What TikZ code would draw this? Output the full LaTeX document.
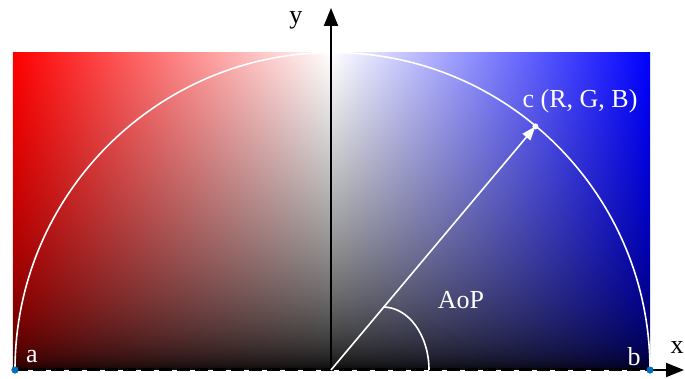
\documentclass[tikz,border=0pt]{standalone}
\usepackage{fontspec}
\setmainfont{Liberation Serif}
\usetikzlibrary{arrows.meta, positioning, calc}

\definecolor{endblue}{RGB}{0,112,192}

\pgfdeclarefunctionalshading{aopfield}{\pgfpoint{-50bp}{-50bp}}{\pgfpoint{50bp}{50bp}}{}{
  25 add 50 div dup 0 lt {pop 0} if exch 25 div
  dup abs 0.2 mul 0.6 exch sub 3 -1 roll exch exp exch
  dup 0 lt {1 add 1 index mul dup} {neg 1 add 1 index mul exch 1 index exch} ifelse
}

\begin{document}
\begin{tikzpicture}[
      x=1pt, y=1pt,
      every node/.style={inner sep=0pt, font=\fontsize{26}{26}\selectfont},
      axis/.style={black, line width=2pt, -{Triangle[length=18pt, width=14pt]}},
      ray/.style={white, line width=1.6pt},
      dot/.style={circle, fill=#1, minimum size=7pt, inner sep=0pt}
    ]
      \useasboundingbox (-331,-9) rectangle (354,370);
      \shade[shading=aopfield] (-318,0) rectangle (319,317);

      \coordinate (o) at (0,0);
      \coordinate (ytip) at (0,362);
      \coordinate (xtip) at (353,0);
      \coordinate (c) at (50:318);
      \coordinate (arcstart) at (52,63);

      \node[dot=endblue] (pa) at (-316,0) {};
      \node[dot=endblue] (pb) at (319,0) {};

      \draw[ray] (pa.center) arc[start angle=180, end angle=0, radius=317.5];
      \draw[black, line width=3pt, dash pattern=on 13pt off 5pt] (pa.center) -- (pb.center);

      \draw[axis] (o) -- (ytip);
      \draw[axis] (pb.center) -- (xtip);
      \node[dot=endblue] at (pa) {};
      \node[dot=endblue] at (pb) {};

      \draw[ray, -{Triangle[length=14pt, width=10pt]}] (o) -- (c);
      \node[dot=white, minimum size=6pt] (cpt) at (c) {};
      \draw[ray] (arcstart) arc[start angle=90, end angle=0, x radius=46, y radius=63];

      \node[white, anchor=south] (lblc) at (249,257) {c (R, G, B)};
      \node[white] (lblaop) at (130,70) {AoP};
      \node[white] (lbla) at (-299,13) {a};
      \node[white] (lblb) at (303,13) {b};
      \node (lbly) at (-35,350) {y};
      \node (lblx) at (346,22) {x};
    \end{tikzpicture}
\end{document}
